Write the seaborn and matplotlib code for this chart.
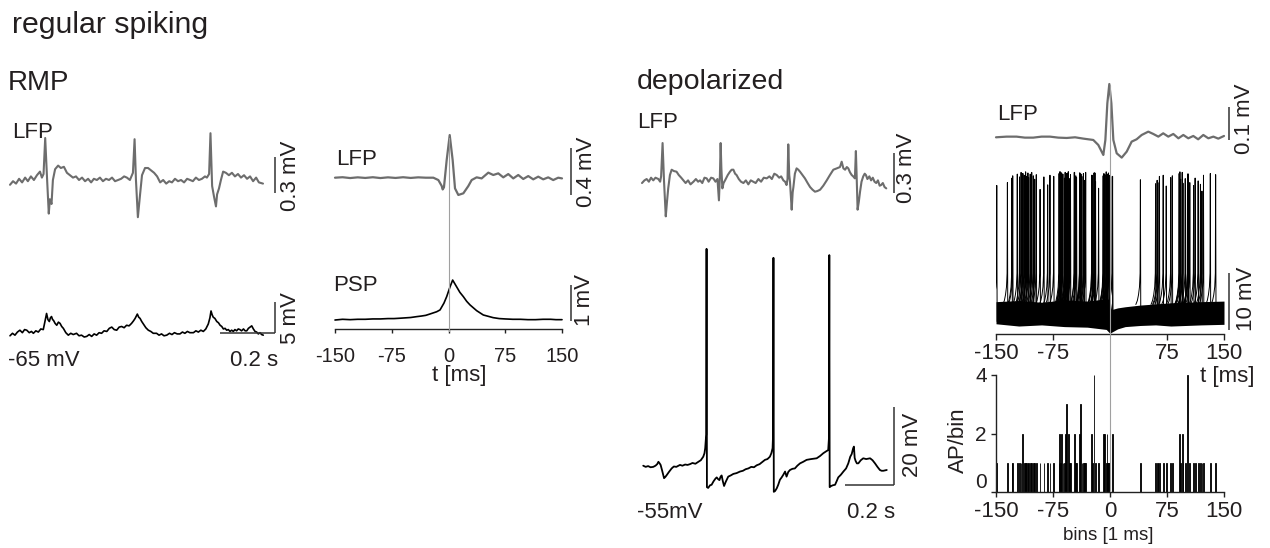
import numpy as np
import pandas as pd
import matplotlib
matplotlib.use("Agg")
import matplotlib.pyplot as plt
import seaborn as sns

# ---------------- data ----------------
# RMP: raw LFP (ms, mV) and membrane potential (ms, mV)
lfp_rmp = [(0,-0.04),(11,-0.01),(22,-0.03),(33,0.01),(44,-0.02),(55,0.02),(65,-0.01),(76,0.03),(87,0.0),(98,0.04),
           (109,0.07),(116,0.02),(122,0.05),(128,0.35),(135,0.0),(141,-0.28),(145,-0.16),(151,-0.20),(156,0.0),(164,0.09),
           (175,0.12),(185,0.10),(196,0.11),(207,0.06),(218,0.04),(229,0.02),(240,0.03),(251,0.0),(262,0.02),(273,-0.01),
           (284,0.01),(295,-0.02),(305,0.01),(316,0.0),(327,0.02),(338,-0.01),(349,0.01),(360,0.0),(371,0.02),(382,-0.01),
           (393,0.0),(404,0.01),(415,0.03),(425,0.02),(436,0.0),(447,0.06),(453,0.34),(458,0.0),(465,-0.31),(473,-0.12),
           (480,0.04),(491,0.10),(502,0.10),(513,0.08),(524,0.06),(535,0.03),(546,-0.02),(557,0.0),(568,-0.03),(579,-0.01),
           (589,-0.02),(600,0.01),(611,-0.01),(622,0.0),(633,-0.02),(644,0.01),(655,0.0),(665,-0.01),(676,0.02),(687,0.0),
           (698,0.01),(709,0.03),(716,0.02),(724,0.05),(729,0.39),(735,-0.05),(742,-0.14),(749,-0.22),(753,-0.12),(760,-0.07),
           (767,0.0),(775,0.07),(785,0.06),(796,0.04),(807,0.06),(818,0.03),(829,0.05),(840,0.02),(851,0.04),(862,0.01),
           (873,0.03),(884,-0.01),(895,0.02),(905,-0.02),(920,-0.03)]

vm_rmp = [(0,-65.4),(9,-65.0),(18,-65.3),(27,-64.8),(36,-64.5),(45,-64.9),(53,-64.4),(61,-64.5),(70,-64.9),(78,-64.7),
          (85,-65.0),(94,-64.6),(103,-64.8),(112,-64.3),(121,-64.4),(128,-62.9),(133,-61.8),(138,-62.8),(143,-63.1),(147,-62.5),
          (151,-62.3),(155,-62.8),(158,-62.9),(164,-63.4),(170,-63.7),(176,-63.2),(182,-63.4),(188,-63.9),(194,-64.2),(203,-64.9),
          (212,-65.3),(221,-65.0),(230,-65.2),(242,-65.0),(251,-65.4),(260,-65.3),(270,-65.6),(279,-65.5),(288,-65.2),(297,-65.5),
          (306,-65.1),(315,-65.3),(324,-64.9),(333,-65.0),(342,-64.6),(352,-64.7),(361,-64.2),(370,-64.0),(379,-64.4),(388,-64.5),
          (397,-64.0),(406,-63.9),(415,-64.1),(424,-63.7),(433,-63.8),(442,-63.4),(449,-63.0),(455,-62.6),(463,-61.9),(468,-62.4),
          (473,-62.6),(479,-63.1),(485,-63.5),(494,-64.1),(503,-64.5),(512,-64.7),(521,-65.0),(533,-65.0),(542,-65.3),(551,-65.1),
          (560,-65.4),(570,-65.3),(580,-65.0),(589,-65.2),(598,-64.9),(608,-65.1),(618,-65.1),(627,-64.8),(636,-65.0),(645,-64.7),
          (654,-64.9),(667,-64.9),(676,-64.6),(685,-64.8),(694,-64.5),(703,-64.7),(712,-64.3),(721,-63.5),(727,-62.5),(731,-61.4),
          (735,-62.0),(739,-62.4),(745,-62.6),(752,-63.1),(758,-63.3),(764,-63.7),(770,-63.9),(776,-64.3),(782,-64.2),(788,-64.5),
          (794,-64.4),(800,-64.7),(806,-64.5),(812,-64.7),(818,-64.4),(824,-64.6),(830,-64.3),(836,-64.4),(842,-64.6),(849,-64.3),
          (855,-64.6),(861,-64.6),(867,-64.2),(873,-64.0),(879,-63.8),(885,-64.3),(891,-64.7),(897,-64.8),(903,-65.1),(909,-64.9),
          (915,-65.2),(921,-65.3)]

# RMP: spike-triggered averages (ms, mV)
lfp_avg_rmp = [(-150,0.0),(-140,0.004),(-130,-0.003),(-120,0.003),(-110,-0.002),(-100,0.004),(-90,-0.003),(-80,0.003),
               (-70,-0.002),(-60,0.004),(-50,-0.002),(-40,0.003),(-30,0.0),(-20,0.0),(-13.4,-0.02),(-9,-0.07),(-7.7,-0.10),
               (-6,-0.082),(-2.4,0.15),(1.6,0.363),(5.5,0.15),(8.6,-0.091),(13,-0.147),(19.6,-0.133),(26.2,-0.071),
               (30.6,-0.02),(37.2,0.003),(43.8,-0.006),(52.6,0.043),(59.2,0.023),(65.8,0.037),(72.4,0.003),(79,0.031),
               (85.6,-0.006),(92.2,0.023),(98.8,-0.011),(105.4,0.014),(112,-0.014),(118.6,0.009),(125.2,-0.014),
               (131.8,0.003),(138.4,-0.02),(145,0.0),(150,-0.006)]
psp_avg_rmp = [(-150,-0.02),(-140,0.0),(-130,-0.01),(-120,0.0),(-110,0.0),(-100,0.01),(-90,0.01),(-80,0.02),(-72,0.02),
               (-64,0.03),(-57,0.04),(-50,0.05),(-42,0.074),(-36,0.09),(-30,0.11),(-24.4,0.148),(-15.6,0.21),(-11.2,0.26),
               (-6,0.45),(-2.4,0.63),(2,0.9),(5.5,1.09),(10.8,0.9),(15,0.75),(19.6,0.63),(24,0.5),(28.4,0.4),(37.2,0.24),
               (46,0.12),(59,0.046),(67,0.02),(75,0.01),(85,0.0),(95,0.0),(105,-0.01),(115,-0.01),(125,0.0),(135,0.0),
               (142,-0.01),(150,-0.01)]

# depolarized: raw LFP and membrane potential (ms, mV)
lfp_dep = [(0,-0.01),(10,0.01),(19,0.02),(28,0.0),(37,0.03),(46,0.01),(55,0.03),(67,0.02),(74,0.0),(78,0.04),
           (84,0.29),(90,0.0),(97,-0.26),(102,-0.15),(107,-0.05),(114,0.05),(121,0.09),(130,0.08),(141,0.075),(150,0.05),
           (160,0.03),(169,0.01),(178,-0.01),(188,0.01),(198,-0.02),(210,0.0),(220,0.02),(229,0.0),(237,0.01),(246,-0.01),
           (255,0.03),(264,0.025),(272,0.0),(282,0.03),(291,0.025),(300,0.0),(308,0.02),(314,-0.14),(318,0.05),(321,0.29),
           (324,0.1),(328,-0.05),(333,-0.01),(339,0.01),(350,0.05),(359,0.075),(366,0.09),(373,0.09),(380,0.06),(386,0.05),
           (395,0.02),(404,0.0),(414,-0.01),(424,0.01),(434,-0.02),(444,0.01),(454,0.0),(464,-0.01),(475,0.02),(486,0.0),
           (497,0.03),(509,0.025),(520,0.04),(530,0.02),(540,0.06),(550,0.05),(560,0.03),(568,0.04),(577,0.01),(584,0.0),
           (590,-0.025),(594,0.02),(597,0.28),(601,0.05),(604,0.0),(608,-0.12),(611,-0.21),(615,-0.08),(618,-0.04),(624,0.06),
           (631,0.1),(638,0.09),(645,0.075),(655,0.05),(665,0.025),(676,-0.01),(686,-0.04),(696,-0.06),(706,-0.075),(716,-0.07),
           (727,-0.06),(740,-0.03),(754,0.01),(767,0.05),(781,0.09),(795,0.1),(808,0.11),(815,0.15),(822,0.1),(829,0.09),
           (836,0.11),(842,0.1),(849,0.07),(856,0.05),(862,0.04),(869,0.025),(873,0.23),(876,0.05),(880,-0.21),(885,-0.15),
           (890,-0.075),(896,0.0),(903,0.04),(909,0.06),(914,0.05),(920,0.02),(928,0.04),(935,0.01),(942,0.03),(949,0.0),
           (956,-0.01),(963,0.01),(970,-0.03),(976,-0.025),(983,-0.01),(990,-0.04),(997,-0.05)]

vm_dep = [(5,-55.0),(15,-55.3),(25,-55.1),(35,-55.4),(46,-55.3),(55,-55.0),(62,-54.6),(67,-54.0),(72,-54.4),(76,-54.8),
          (82,-56.2),(90,-58.2),(95,-57.9),(101,-57.4),(110,-56.6),(121,-55.7),(130,-55.2),(140,-55.3),(155,-54.8),(165,-55.0),
          (176,-54.7),(186,-54.8),(196,-54.6),(206,-54.3),(218,-54.5),(230,-54.0),(240,-53.6),(250,-52.7),(255,-51.8),(258,-50.5),
          (262,-47.0),(263.5,0.6),(265,-60.5),(270,-60.7),(278,-60.0),(284,-59.9),(292,-59.0),(300,-58.3),(305,-58.0),(310,-58.4),
          (316,-58.7),(320,-57.9),(325,-57.5),(330,-59.0),(335,-60.2),(342,-59.1),(352,-57.8),(362,-57.5),(373,-57.1),(386,-56.9),
          (400,-56.5),(412,-56.3),(423,-55.9),(434,-55.7),(446,-55.3),(457,-55.4),(468,-54.9),(480,-54.6),(490,-54.1),(502,-53.5),
          (512,-53.3),(522,-52.7),(528,-51.8),(533,-50.5),(535,-47.0),(536.5,-1.7),(538,-61.7),(543,-61.5),(550,-60.8),(556,-59.9),
          (563,-58.6),(570,-58.0),(577,-57.3),(584,-56.5),(590,-57.8),(597,-56.6),(604,-56.1),(614,-55.8),(624,-55.7),(634,-55.0),
          (645,-54.4),(658,-54.0),(672,-53.5),(690,-53.3),(713,-53.1),(727,-52.5),(740,-51.8),(752,-51.3),(760,-51.0),(763,-48.0),
          (764.5,-1.0),(766,-60.5),(772,-60.2),(780,-60.0),(788,-59.9),(795,-58.9),(801,-58.0),(812,-57.3),(822,-56.5),(833,-55.7),
          (842,-54.4),(850,-52.7),(856,-52.0),(862,-50.5),(865,-50.1),(868,-53.0),(872,-53.8),(877,-54.4),(883,-54.4),(893,-53.6),
          (903,-53.1),(915,-53.3),(931,-53.1),(941,-53.6),(951,-54.4),(961,-55.3),(971,-56.1),(978,-56.3),(985,-56.3),(992,-56.2),
          (999,-56.1)]

# depolarized: spike-triggered LFP average (ms, mV)
lfp_avg_dep = [(-150,0.0),(-136,0.002),(-123,0.002),(-112,-0.001),(-101,-0.001),(-90,0.002),(-79,0.002),(-68,-0.001),
               (-57,-0.002),(-46,0.0),(-35,-0.004),(-22,-0.008),(-15.4,-0.023),(-11,-0.043),(-8.8,-0.053),(-6.1,-0.008),
               (-3.5,0.102),(-0.9,0.16),(1.8,0.102),(4.4,-0.008),(8.8,-0.048),(15.4,-0.061),(22,-0.043),(28.5,-0.013),
               (35,-0.006),(41.7,0.007),(50.4,0.017),(57,0.010),(63.6,0.002),(70,0.012),(76.7,0.002),(83.3,0.010),
               (90,-0.003),(96.5,0.007),(103,-0.003),(109.6,0.004),(116,-0.006),(122.8,0.007),(129.4,-0.003),
               (136,0.002),(142.5,-0.004),(150,0.004)]

# depolarized: AP histogram (1 ms bins) and spike peak heights (mV above baseline) in overlay
hist_bins = [-149,-135,-129,-128,-122,-119,-117,-115,-113,-111,
             -110,-108,-107,-105,-103,-101,-99,-97,-92,-87,
             -82,-79,-74,-67,-66,-65,-64,-62,-60,-59,
             -58,-57,-55,-53,-52,-47,-45,-44,-40,-39,
             -37,-35,-34,-32,-24,-23,-21,-19,-15,-9,
             -8,-7,-5,-4,-3,-2,-1,3,40,60,
             62,63,65,70,74,80,82,91,92,93,
             95,96,99,102,105,110,112,116,119,121,
             123,132,139]
hist_counts = [1,1,1,1,1,1,1,2,1,1,
               1,1,1,1,1,1,1,1,1,1,
               1,1,1,1,2,1,2,1,1,2,
               1,3,2,1,1,2,1,1,2,3,
               1,1,1,1,2,1,4,1,1,2,
               1,2,1,2,1,1,1,2,1,1,
               1,1,1,1,1,1,1,2,1,1,
               2,1,1,4,1,1,1,1,1,1,
               1,1,1]
spike_peaks = [22.5,23.0,23.8,24.2,24.5,24.0,24.8,24.6,24.3,24.9,
               24.1,24.7,23.9,24.5,24.8,24.2,23.6,24.4,21.8,24.0,
               22.6,24.3,24.1,24.6,24.9,24.2,24.7,24.5,23.8,24.8,
               24.0,24.6,24.9,23.7,24.4,24.8,24.2,23.9,24.7,24.5,
               24.1,24.6,23.4,24.8,24.3,24.0,24.7,23.2,22.0,24.2,
               24.6,24.4,24.9,24.5,24.0,24.7,24.3,24.1,23.5,22.8,
               23.4,23.0,24.1,24.3,22.4,23.9,24.2,24.6,24.9,23.6,
               24.8,22.9,23.7,24.5,23.0,22.5,23.8,23.3,22.7,21.5,
               24.3,24.6,24.4]
# envelope of the overlaid sub-threshold traces (ms, mV relative to baseline)
band_t = [-150,-120,-90,-60,-30,-5,0,2,10,20,40,60,80,100,120,150]
band_upper = [2.0,2.2,1.9,2.3,2.1,2.5,2.4,0.6,0.9,1.1,1.4,1.6,1.8,1.9,2.0,2.1]
band_lower = [-1.9,-2.3,-2.1,-2.4,-2.5,-2.9,-3.6,-3.4,-2.8,-2.4,-2.2,-2.1,-2.3,-2.2,-2.1,-2.0]

avg_ticks = [-150, -75, 0, 75, 150]
avg_ticklabels = ["-150", "-75", "0", "75", "150"]
overlay_ticks = [-150, -75, 75, 150]
overlay_ticklabels = ["-150", "-75", "75", "150"]
hist_yticks = [0, 2, 4]

# ---------------- styling ----------------
sns.set_theme(style="white")
plt.rcParams["font.family"] = ["Liberation Sans", "DejaVu Sans"]
plt.rcParams["axes.unicode_minus"] = False
TXT = "#231f20"
LFPC = "#6d6d6d"
REFC = "#a0a0a0"

W, H = 1270, 548
fig = plt.figure(figsize=(W / 100, H / 100), dpi=100)
fig.patch.set_facecolor("white")


def px_axes(x0, x1, y0, y1, xo, xs, yo_px, yo_val, ys):
    ax = fig.add_axes([x0 / W, 1 - y1 / H, (x1 - x0) / W, (y1 - y0) / H])
    ax.set_xlim((x0 - xo) / xs, (x1 - xo) / xs)
    ax.set_ylim(yo_val + (yo_px - y1) / ys, yo_val + (yo_px - y0) / ys)
    ax.patch.set_alpha(0)
    fx = lambda p: (p - xo) / xs
    fy = lambda p: yo_val + (yo_px - p) / ys
    return ax, fx, fy


def trace(ax, pts, color, lw):
    t = [p[0] for p in pts]
    v = [p[1] for p in pts]
    sns.lineplot(x=t, y=v, ax=ax, color=color, linewidth=lw, estimator=None, sort=False)
    ax.lines[-1].set_clip_on(False)


def ftext(x, y, s, size=16, **kw):
    kw.setdefault("color", TXT)
    fig.text(x / W, 1 - y / H, s, fontsize=size, **kw)


def vbar(ax, fx, fy, xpx, ybot_px, length, color="#333333"):
    ax.plot([fx(xpx)] * 2, [fy(ybot_px), fy(ybot_px) + length], color=color, lw=1.1, clip_on=False, solid_capstyle="butt")


def hbar(ax, fx, fy, xright_px, y_px, length, color="#333333"):
    ax.plot([fx(xright_px) - length, fx(xright_px)], [fy(y_px)] * 2, color=color, lw=1.1, clip_on=False, solid_capstyle="butt")


def clean(ax):
    ax.set_xlabel("")
    ax.set_ylabel("")
    ax.set_axis_off()


# headers
ftext(12, 33, "regular spiking", size=21.8, va="baseline")
ftext(8, 90, "RMP", size=20, va="baseline")
ftext(637, 89, "depolarized", size=20.5, va="baseline")

# ---- RMP raw LFP ----
ax, fx, fy = px_axes(5, 300, 120, 230, 10, 0.275, 180, 0.0, 120)
trace(ax, lfp_rmp, LFPC, 1.5)
vbar(ax, fx, fy, 275, 193, 0.3)
clean(ax)
ftext(12, 138, "LFP", va="baseline")
ftext(290, 176, "0.3 mV", rotation=90, ha="center", va="center")

# ---- RMP Vm ----
ax, fx, fy = px_axes(5, 300, 290, 345, 10, 0.275, 333.3, -65.0, 6.2)
trace(ax, vm_rmp, "black", 1.2)
vbar(ax, fx, fy, 275, 333, 5)
hbar(ax, fx, fy, 275, 333, 200)
clean(ax)
ftext(290, 318, "5 mV", rotation=90, ha="center", va="center")
ftext(8, 366, "-65 mV", va="baseline")
ftext(254, 366, "0.2 s", ha="center", va="baseline")

# ---- RMP averages ----
xs_avg = 227 / 300
ax, fx, fy = px_axes(335, 562, 125, 205, 448.5, xs_avg, 177.7, 0.0, 117.5)
trace(ax, lfp_avg_rmp, LFPC, 1.6)
vbar(ax, fx, fy, 571, 195, 0.4)
clean(ax)
ftext(336, 165, "LFP", va="baseline")
ftext(587, 172, "0.4 mV", rotation=90, ha="center", va="center")

ax, fx, fy = px_axes(335, 562, 265, 329, 448.5, xs_avg, 319.3, 0.0, 36)
trace(ax, psp_avg_rmp, "black", 1.2)
vbar(ax, fx, fy, 571, 321, 1.0)
for s in ["top", "right", "left"]:
    ax.spines[s].set_visible(False)
ax.spines["bottom"].set_color("#222222")
ax.spines["bottom"].set_linewidth(1.0)
ax.set_xticks(avg_ticks)
ax.set_xticklabels(avg_ticklabels)
ax.set_yticks([])
ax.tick_params(axis="x", bottom=True, direction="out", length=3, width=1.0, color="#222222",
               labelsize=14.5, labelcolor=TXT, pad=10)
ax.set_xlabel("")
ax.set_ylabel("")
ftext(333, 291, "PSP", va="baseline")
ftext(585, 300, "1 mV", rotation=90, ha="center", va="center")
ftext(459, 375, "t [ms]", ha="center", va="center")

# reference line at t = 0 (middle column)
axr, _, _ = px_axes(335, 562, 138, 332, 448.5, xs_avg, 332, 0.0, 1.0)
axr.plot([0, 0], [0, 194], color=REFC, lw=0.8)
axr.set_axis_off()

# ---- depolarized raw LFP ----
ax, fx, fy = px_axes(636, 930, 120, 225, 642, 0.245, 181.7, 0.0, 133.3)
trace(ax, lfp_dep, LFPC, 1.5)
vbar(ax, fx, fy, 894, 193, 0.3)
clean(ax)
ftext(637, 128, "LFP", va="baseline")
ftext(906, 168, "0.3 mV", rotation=90, ha="center", va="center")

# ---- depolarized Vm ----
ax, fx, fy = px_axes(636, 930, 240, 495, 642, 0.245, 465.7, -55.0, 3.9)
trace(ax, vm_dep, "black", 1.3)
vbar(ax, fx, fy, 894, 485, 20)
hbar(ax, fx, fy, 894, 485, 200)
clean(ax)
ftext(913, 445, "20 mV", rotation=90, ha="center", va="center")
ftext(637, 518, "-55mV", va="baseline")
ftext(871, 518, "0.2 s", ha="center", va="baseline")

# ---- depolarized averages ----
ax, fx, fy = px_axes(996, 1224, 70, 165, 1110, 0.76, 137.3, 0.0, 333)
trace(ax, lfp_avg_dep, LFPC, 1.6)
vbar(ax, fx, fy, 1229, 140, 0.1)
clean(ax)
ftext(997, 120, "LFP", va="baseline")
ftext(1245, 119, "0.1 mV", rotation=90, ha="center", va="center")

# overlay of spike-aligned Vm traces
ax, fx, fy = px_axes(996, 1224, 160, 333.5, 1110, 0.76, 313, 0.0, 5.67)
ax.fill_between(band_t, band_lower, band_upper, color="black", lw=0)
rows = []
uid = 0
for b, n, pk in zip(hist_bins, hist_counts, spike_peaks):
    for k in range(n):
        tt = b + 0.4 * k
        shape = [(-6, 1.5), (-4, 2.2), (-2.5, 3.2), (-1.2, 4.6), (-0.4, 7.0), (0, pk), (0.5, -1.5), (2.0, 0.0)]
        for dt, dv in shape:
            rows.append({"t": tt + dt, "v": dv, "unit": uid})
        uid += 1
spk = pd.DataFrame(rows)
sns.lineplot(data=spk, x="t", y="v", units="unit", estimator=None, sort=False, color="black", linewidth=0.7, ax=ax)
for s in ["top", "right", "left"]:
    ax.spines[s].set_visible(False)
ax.spines["bottom"].set_color("#222222")
ax.spines["bottom"].set_linewidth(1.0)
ax.set_xticks(overlay_ticks)
ax.set_xticklabels(overlay_ticklabels)
ax.set_yticks([])
ax.tick_params(axis="x", bottom=True, direction="out", length=4, width=1.0, color="#222222",
               labelsize=16, labelcolor=TXT, pad=3)
ax.set_xlabel("")
ax.set_ylabel("")
vbar(ax, fx, fy, 1229, 330, 10)
ftext(1247, 299, "10 mV", rotation=90, ha="center", va="center")
ftext(1255, 366, "t [ms]", ha="right", va="top")

# AP histogram
axh = fig.add_axes([996 / W, 1 - 492 / H, 228 / W, 117 / H])
axh.patch.set_alpha(0)
sns.histplot(x=hist_bins, weights=hist_counts, binwidth=1, binrange=(-150.5, 150.5), color="black",
             edgecolor="black", linewidth=0.6, alpha=1, ax=axh)
axh.set_xlim(-150, 150)
axh.set_ylim(0, 4)
for s in ["top", "right"]:
    axh.spines[s].set_visible(False)
for s in ["bottom", "left"]:
    axh.spines[s].set_color("#222222")
    axh.spines[s].set_linewidth(1.0)
axh.set_xticks(avg_ticks)
axh.set_xticklabels(avg_ticklabels)
axh.set_yticks(hist_yticks)
axh.set_yticklabels([str(v) for v in hist_yticks])
axh.tick_params(axis="x", bottom=True, direction="out", length=3.5, width=1.0, color="#222222",
                labelsize=16, labelcolor=TXT, pad=3)
axh.tick_params(axis="y", left=True, direction="out", length=3.5, width=1.0, color="#222222",
                labelsize=15, labelcolor=TXT, pad=3)
for lab in axh.get_yticklabels():
    lab.set_verticalalignment("center_baseline")
axh.get_yticklabels()[0].set_verticalalignment("bottom")
axh.set_xlabel("")
axh.set_ylabel("")
ftext(1108, 536, "bins [1 ms]", size=13.5, ha="center", va="center")
ftext(958, 440, "AP/bin", rotation=90, ha="center", va="center")

# reference line at t = 0 (right column)
axr, _, _ = px_axes(996, 1224, 85, 492, 1110, 0.76, 492, 0.0, 1.0)
axr.plot([0, 0], [0, 407], color=REFC, lw=0.8)
axr.set_axis_off()

fig.savefig("out.png", dpi=100, facecolor="white")
